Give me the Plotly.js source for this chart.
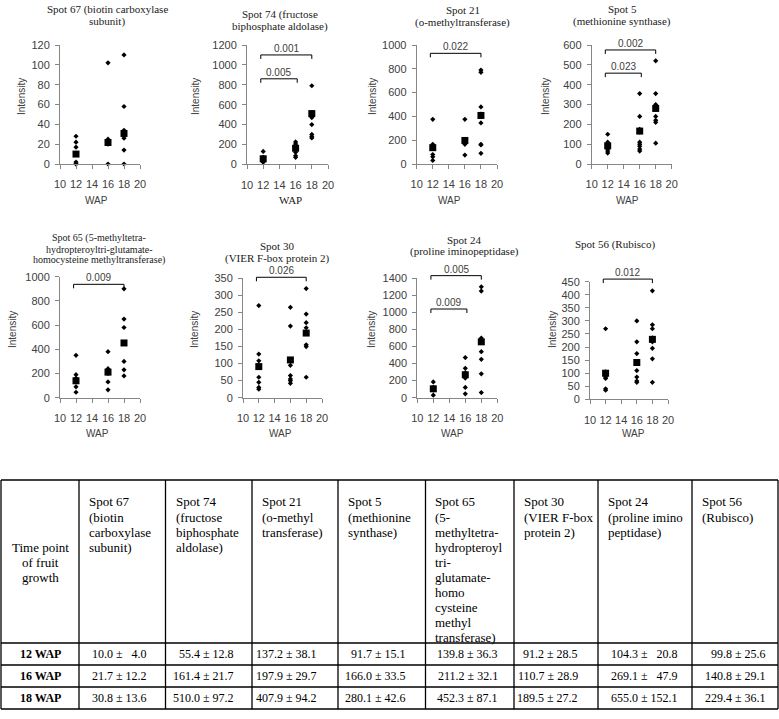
<!DOCTYPE html>
<html><head><meta charset="utf-8">
<script src="https://cdn.plot.ly/plotly-3.0.1.min.js"></script>
<style>html,body{margin:0;padding:0;background:#fff}#chart{width:779px;height:719px}</style>
</head><body><div id="chart"></div>
<script>
// ---------------- data ----------------
const weeks = [12, 16, 18];
const weekLabels = ['12 WAP', '16 WAP', '18 WAP'];

const spotTitles = [
  ['Spot 67 (biotin carboxylase', 'subunit)'],
  ['Spot 74 (fructose', 'biphosphate aldolase)'],
  ['Spot 21', '(o-methyltransferase)'],
  ['Spot 5', '(methionine synthase)'],
  ['Spot 65 (5-methyltetra-', 'hydropteroyltri-glutamate-', 'homocysteine methyltransferase)'],
  ['Spot 30', '(VIER F-box protein 2)'],
  ['Spot 24', '(proline iminopeptidase)'],
  ['Spot 56 (Rubisco)']
];

const tableHeaders = [
  ['Spot 67', '(biotin', 'carboxylase', 'subunit)'],
  ['Spot 74', '(fructose', 'biphosphate', 'aldolase)'],
  ['Spot 21', '(o-methyl', 'transferase)'],
  ['Spot 5', '(methionine', 'synthase)'],
  ['Spot 65', '(5-', 'methyltetra-', 'hydropteroyl', 'tri-', 'glutamate-', 'homo', 'cysteine', 'methyl', 'transferase)'],
  ['Spot 30', '(VIER F-box', 'protein 2)'],
  ['Spot 24', '(proline imino', 'peptidase)'],
  ['Spot 56', '(Rubisco)']
];
const firstHeader = ['Time point', 'of fruit', 'growth'];

// individual replicate intensities
const s67_12 = [28, 22, 17, 2, 0, 0];
const s67_16 = [102, 25, 20, 0];
const s67_18 = [110, 58, 34, 26, 14, 0];

const s74_12 = [130, 70, 60, 50, 40, 30, 20];
const s74_16 = [225, 205, 190, 175, 150, 120, 85, 70];
const s74_18 = [790, 520, 480, 470, 400, 300, 280, 265];

const s21_12 = [375, 165, 140, 80, 60, 30];
const s21_16 = [375, 200, 190, 180, 165, 75];
const s21_18 = [790, 770, 480, 420, 400, 345, 165, 160, 90];

const s5_12 = [150, 110, 100, 95, 85, 75, 65, 55];
const s5_16 = [355, 240, 175, 170, 160, 110, 100, 90, 75, 65];
const s5_18 = [520, 355, 300, 285, 240, 220, 210, 105];

const s65_12 = [350, 190, 160, 130, 90, 45];
const s65_16 = [380, 240, 220, 200, 130, 65];
const s65_18 = [900, 650, 580, 300, 230, 180];

const s30_12 = [270, 128, 108, 60, 45, 30, 25];
const s30_16 = [265, 210, 95, 65, 55, 50, 42];
const s30_18 = [320, 245, 220, 205, 155, 150, 60];

const s24_12 = [185, 120, 90, 30];
const s24_16 = [470, 345, 290, 250, 230, 120, 45];
const s24_18 = [1300, 1250, 700, 680, 540, 450, 280, 60];

const s56_12 = [270, 105, 100, 97, 90, 85, 80, 40, 35];
const s56_16 = [300, 220, 175, 110, 85, 70, 65];
const s56_18 = [415, 285, 270, 235, 220, 195, 155, 65];

// means and SE (table)
const mean12 = [10.0, 55.4, 137.2, 91.7, 139.8, 91.2, 104.3, 99.8];
const se12   = [4.0, 12.8, 38.1, 15.1, 36.3, 28.5, 20.8, 25.6];
const mean16 = [21.7, 161.4, 197.9, 166.0, 211.2, 110.7, 269.1, 140.8];
const se16   = [12.2, 21.7, 29.7, 33.5, 32.1, 28.9, 47.9, 29.1];
const mean18 = [30.8, 510.0, 407.9, 280.1, 452.3, 189.5, 655.0, 229.4];
const se18   = [13.6, 97.2, 94.2, 42.6, 87.1, 27.2, 152.1, 36.1];

// axis maxima and steps
const yMax  = [120, 1200, 1000, 600, 1000, 350, 1400, 450];
const yStep = [20, 200, 200, 100, 200, 50, 200, 50];
const xTicks = [10, 12, 14, 16, 18, 20];

// significance brackets
const sigSpot  = [1, 1, 2, 3, 3, 4, 5, 6, 6, 7];
const sigTo    = [18, 16, 18, 18, 16, 18, 18, 18, 16, 18];
const sigLevel = [1100, 860, 930, 575, 458, 937, 353, 1431, 1040, 460];
const sigP     = ['0.001', '0.005', '0.022', '0.002', '0.023', '0.009', '0.026', '0.005', '0.009', '0.012'];

// ---------------- layout geometry (pixels) ----------------
const W = 779, H = 719;
const px = v => v / W;
const py = v => 1 - v / H;

const plotBox = [
  [60, 140, 45, 164], [247, 328, 45, 164.3], [416.7, 497, 45, 164], [591.7, 671.7, 45, 164],
  [60, 140, 276.7, 397.7], [243, 322, 278.3, 397.7], [417.3, 497.3, 278.3, 397.7], [590, 668, 281.7, 399.3]
];
const titleX = [107, 280, 463, 622, 99, 277, 464, 615];
const titleY = [[9, 21], [15, 27], [10, 22], [9, 21], [238, 249, 260], [246, 258], [240, 252], [244]];
const titleSize = [11, 11, 11, 11, 10, 11, 11, 11];
const intensityX = [21, 195, 372, 545, 13, 195, 372, 553];
const intensityY = [97, 97, 97, 97, 330, 330, 330, 330];
const wapX = [96, 290, 450, 627, 97, 280, 453, 633];
const wapY = [200, 200, 200, 200, 433, 433, 433, 433];
const wapSerif = [false, true, false, false, false, false, false, false];

const tblCols = [1, 79, 165.5, 252, 338, 425.5, 514, 598, 692, 778];
const tblRows = [480, 643, 665, 687, 709];
const valRight = [149, 236, 319, 408, 500, 580, 680, 768];

const pts = [
  [s67_12, s67_16, s67_18], [s74_12, s74_16, s74_18], [s21_12, s21_16, s21_18], [s5_12, s5_16, s5_18],
  [s65_12, s65_16, s65_18], [s30_12, s30_16, s30_18], [s24_12, s24_16, s24_18], [s56_12, s56_16, s56_18]
];
const means = [mean12, mean16, mean18];
const ses = [se12, se16, se18];

const sans = 'Liberation Sans, Arial, sans-serif';
const serif = 'Liberation Serif, Times New Roman, serif';
const tickCol = '#404040';
const axCol = '#868686';

const traces = [];
const layout = {
  width: W, height: H, margin: {l: 0, r: 0, t: 0, b: 0},
  paper_bgcolor: '#fff', plot_bgcolor: 'rgba(0,0,0,0)',
  showlegend: false, annotations: [], shapes: []
};

for (let i = 0; i < 8; i++) {
  const s = i === 0 ? '' : String(i + 1);
  const b = plotBox[i];
  const xs = [], ys = [];
  pts[i].forEach((arr, k) => arr.forEach(v => { xs.push(weeks[k]); ys.push(v); }));
  traces.push({
    type: 'scatter', mode: 'markers', x: xs, y: ys, xaxis: 'x' + s, yaxis: 'y' + s,
    cliponaxis: false, hoverinfo: 'skip',
    marker: {symbol: 'diamond', size: 4, color: '#000'}
  });
  traces.push({
    type: 'scatter', mode: 'markers', x: weeks, y: means.map(m => m[i]), xaxis: 'x' + s, yaxis: 'y' + s,
    cliponaxis: false, hoverinfo: 'skip',
    marker: {symbol: 'square', size: 7, color: '#000'}
  });
  layout['xaxis' + s] = {
    domain: [px(b[0]), px(b[1])], anchor: 'y' + s, range: [10, 20],
    tickmode: 'array', tickvals: xTicks, ticktext: xTicks.map(String),
    ticks: 'outside', ticklen: 4, tickcolor: axCol, tickwidth: 1, ticklabelstandoff: 6,
    showline: true, linecolor: axCol, linewidth: 1, showgrid: false, zeroline: false,
    tickfont: {family: sans, size: 11, color: tickCol}, fixedrange: true
  };
  layout['yaxis' + s] = {
    domain: [py(b[3]), py(b[2])], anchor: 'x' + s, range: [0, yMax[i]],
    tick0: 0, dtick: yStep[i],
    ticks: 'outside', ticklen: 4, tickcolor: axCol, tickwidth: 1, ticklabelstandoff: 3,
    showline: true, linecolor: axCol, linewidth: 1, showgrid: false, zeroline: false,
    tickfont: {family: sans, size: 11, color: tickCol}, fixedrange: true
  };
  spotTitles[i].forEach((line, j) => {
    layout.annotations.push({
      xref: 'paper', yref: 'paper', x: px(titleX[i]), y: py(titleY[i][j]),
      xanchor: 'center', yanchor: 'middle', showarrow: false, text: line,
      font: {family: serif, size: titleSize[i], color: '#1a1a1a'}
    });
  });
  layout.annotations.push({
    xref: 'paper', yref: 'paper', x: px(intensityX[i]), y: py(intensityY[i]),
    xanchor: 'center', yanchor: 'middle', showarrow: false, text: 'Intensity', textangle: -90,
    font: {family: sans, size: 10, color: tickCol}
  });
  layout.annotations.push({
    xref: 'paper', yref: 'paper', x: px(wapX[i]), y: py(wapY[i]),
    xanchor: 'center', yanchor: 'middle', showarrow: false, text: 'WAP',
    font: wapSerif[i] ? {family: serif, size: 11, color: '#1a1a1a'} : {family: sans, size: 10, color: tickCol}
  });
}

// significance brackets
sigSpot.forEach((i, k) => {
  const s = i === 0 ? '' : String(i + 1);
  const b = plotBox[i];
  const hpx = b[3] - b[2];
  const yv = sigLevel[k] / yMax[i];
  const tick = 4 / hpx;
  const x0 = 11.7, x1 = sigTo[k] === 18 ? 18 : 16.2;
  const ln = {color: '#000', width: 1};
  layout.shapes.push({type: 'line', xref: 'x' + s, yref: 'y' + s + ' domain', x0: x0, x1: x1, y0: yv, y1: yv, line: ln});
  layout.shapes.push({type: 'line', xref: 'x' + s, yref: 'y' + s + ' domain', x0: x0, x1: x0, y0: yv, y1: yv - tick, line: ln});
  layout.shapes.push({type: 'line', xref: 'x' + s, yref: 'y' + s + ' domain', x0: x1, x1: x1, y0: yv, y1: yv - tick, line: ln});
  layout.annotations.push({
    xref: 'x' + s, yref: 'y' + s + ' domain', x: (x0 + x1) / 2, y: yv, yanchor: 'bottom', xanchor: 'center',
    showarrow: false, text: sigP[k], yshift: -1,
    font: {family: sans, size: 10, color: tickCol}
  });
});

// ---------------- table ----------------
const tl = {color: '#000', width: 1.3};
tblCols.forEach(c => layout.shapes.push({type: 'line', xref: 'paper', yref: 'paper',
  x0: px(c), x1: px(c), y0: py(tblRows[0]), y1: py(tblRows[tblRows.length - 1]), line: tl}));
tblRows.forEach(r => layout.shapes.push({type: 'line', xref: 'paper', yref: 'paper',
  x0: px(tblCols[0]), x1: px(tblCols[tblCols.length - 1]), y0: py(r), y1: py(r), line: tl}));

firstHeader.forEach((line, j) => layout.annotations.push({
  xref: 'paper', yref: 'paper', x: px((tblCols[0] + tblCols[1]) / 2), y: py(547 + 15 * j),
  xanchor: 'center', yanchor: 'middle', showarrow: false, text: line,
  font: {family: serif, size: 13, color: '#000'}
}));
tableHeaders.forEach((lines, c) => lines.forEach((line, j) => layout.annotations.push({
  xref: 'paper', yref: 'paper', x: px(tblCols[c + 1] + 8), y: py(502 + 15 * j),
  xanchor: 'left', yanchor: 'middle', showarrow: false, text: line,
  font: {family: serif, size: 13, color: '#000'}
})));

for (let r = 0; r < 3; r++) {
  const yc = py((tblRows[r + 1] + tblRows[r + 2]) / 2);
  layout.annotations.push({
    xref: 'paper', yref: 'paper', x: px((tblCols[0] + tblCols[1]) / 2), y: yc,
    xanchor: 'center', yanchor: 'middle', showarrow: false, text: '<b>' + weekLabels[r] + '</b>',
    font: {family: serif, size: 12, color: '#000'}
  });
  for (let c = 0; c < 8; c++) {
    const maxLen = Math.max(...ses.map(a => a[c].toFixed(1).length));
    const seStr = ses[r][c].toFixed(1);
    const pad = '\u00a0\u00a0'.repeat(maxLen - seStr.length);
    layout.annotations.push({
      xref: 'paper', yref: 'paper', x: px(valRight[c]), y: yc,
      xanchor: 'right', yanchor: 'middle', showarrow: false,
      text: means[r][c].toFixed(1) + ' \u00b1 ' + pad + seStr,
      font: {family: serif, size: 12, color: '#000'}
    });
  }
}

Plotly.newPlot('chart', traces, layout, {staticPlot: true, displayModeBar: false});
</script>
</body></html>
